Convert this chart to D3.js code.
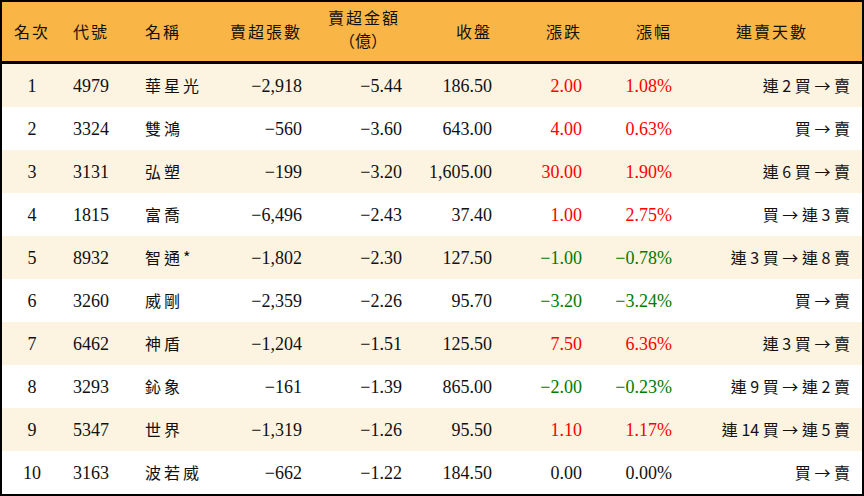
<!DOCTYPE html><html><head><meta charset="utf-8"><script src="https://cdn.jsdelivr.net/npm/d3@7"></script>
<style>body{margin:0;background:#fff}</style></head><body><svg id="c" width="864" height="496"></svg>
<script>
const ranks=[1,2,3,4,5,6,7,8,9,10];
const codes=["4979","3324","3131","1815","8932","3260","6462","3293","5347","3163"];
const names=["華星光","雙鴻","弘塑","富喬","智通*","威剛","神盾","鈊象","世界","波若威"];
const sellShares=[-2918,-560,-199,-6496,-1802,-2359,-1204,-161,-1319,-662];
const sellAmount=[-5.44,-3.60,-3.20,-2.43,-2.30,-2.26,-1.51,-1.39,-1.26,-1.22];
const closes=[186.50,643.00,1605.00,37.40,127.50,95.70,125.50,865.00,95.50,184.50];
const changes=[2.00,4.00,30.00,1.00,-1.00,-3.20,7.50,-2.00,1.10,0.00];
const pcts=[1.08,0.63,1.90,2.75,-0.78,-3.24,6.36,-0.23,1.17,0.00];
const streaks=["連 2 買 → 賣","買 → 賣","連 6 買 → 賣","買 → 連 3 賣","連 3 買 → 連 8 賣","買 → 賣","連 3 買 → 賣","連 9 買 → 連 2 賣","連 14 買 → 連 5 賣","買 → 賣"];
const headers=["名次","代號","名稱","賣超張數","賣超金額","收盤","漲跌","漲幅","連賣天數"];

const svg=d3.select("#c");
const serif="'Liberation Serif','DejaVu Serif',serif", cjk="'Noto Sans CJK TC','Liberation Serif',serif";
const y=d3.scaleBand().domain(d3.range(10)).range([64,494]);
svg.append("rect").attr("x",0).attr("y",0).attr("width",864).attr("height",496).attr("fill","#000");
svg.append("rect").attr("x",2).attr("y",2).attr("width",860).attr("height",59).attr("fill","#F9B646");
svg.selectAll("rect.row").data(d3.range(10)).join("rect").attr("x",2).attr("width",860)
 .attr("y",i=>y(i)).attr("height",y.bandwidth()-(0)).attr("fill",i=>i%2==0?"#FDF3E1":"#FFFFFF");
const cols=[{x:32,a:"middle"},{x:73,a:"start"},{x:145,a:"start"},{x:302,a:"end"},{x:402,a:"end"},{x:492,a:"end"},{x:582,a:"end"},{x:672,a:"end"},{x:850,a:"end"}];
const hx=[{x:32,a:"middle"},{x:73,a:"start"},{x:145,a:"start"},{x:302,a:"end"},{x:400,a:"end"},{x:492,a:"end"},{x:582,a:"end"},{x:672,a:"end"},{x:772,a:"middle"}];
headers.forEach((h,i)=>{
 const t=svg.append("text").attr("x",hx[i].x).attr("y",i==4?24:38).attr("text-anchor",hx[i].a)
  .attr("font-family",cjk).attr("font-size",16).attr("letter-spacing",2).attr("fill","#111").text(h);
});
svg.append("text").attr("x",363).attr("y",47).attr("text-anchor","middle").attr("font-family",cjk).attr("font-size",16).attr("fill","#111").text("（億）");
const f0=d3.format(","),f2=d3.format(",.2f");
const col=v=>v>0?"#FF0000":v<0?"#007A00":"#111";
const rows=d3.range(10).map(i=>[
 {t:ranks[i],f:serif},{t:codes[i],f:serif},{t:names[i],f:cjk,ls:3},{t:f0(sellShares[i]),f:serif},{t:f2(sellAmount[i]),f:serif},
 {t:f2(closes[i]),f:serif},{t:f2(changes[i]),f:serif,c:col(changes[i])},{t:f2(pcts[i])+"%",f:serif,c:col(pcts[i])},{t:streaks[i],f:cjk}]);
rows.forEach((r,i)=>r.forEach((c,j)=>{
 svg.append("text").attr("x",cols[j].x).attr("y",y(i)+y.bandwidth()/2+6).attr("text-anchor",cols[j].a)
  .attr("font-family",c.f).attr("font-size",c.f==serif?18:16).attr("letter-spacing",c.ls||0)
  .attr("fill",c.c||"#111").text(c.t);
}));
</script></body></html>
